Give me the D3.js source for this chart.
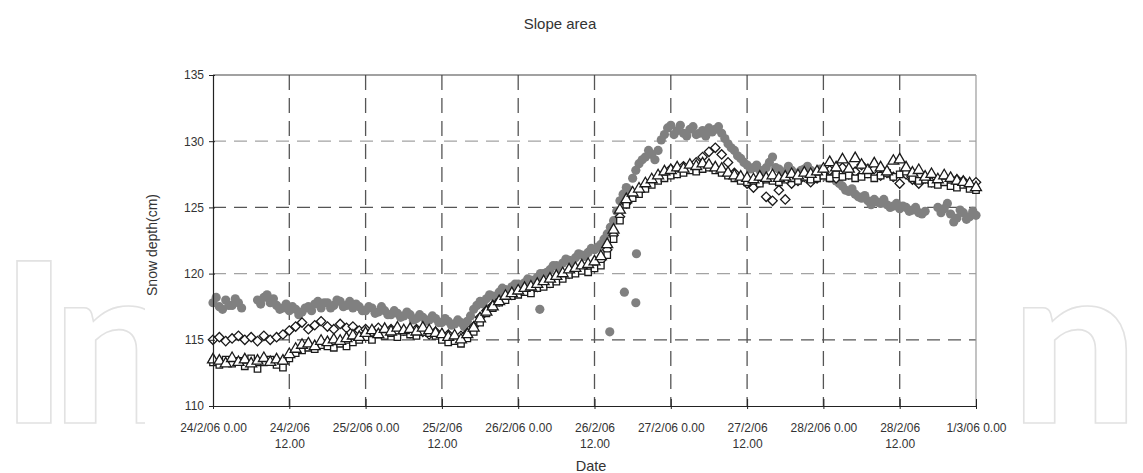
<!DOCTYPE html>
<html>
<head>
<meta charset="utf-8">
<script src="https://cdn.jsdelivr.net/npm/d3@7"></script>
<style>
  body { margin: 0; background: #fff; }
  svg { display: block; font-family: "Liberation Sans", Arial, sans-serif; }
</style>
</head>
<body>
<script>
// readings every hour (and half hour for the grey series), 24/2/06 0.00 -> 1/3/06 0.00
// hour index = position in array
const yTicks = [110, 115, 120, 125, 130, 135];
const xTickHours = [0, 12, 24, 36, 48, 60, 72, 84, 96, 108, 120];
const xTickLabels = ["24/2/06 0.00", "24/2/06|12.00", "25/2/06 0.00", "25/2/06|12.00", "26/2/06 0.00",
                     "26/2/06|12.00", "27/2/06 0.00", "27/2/06|12.00", "28/2/06 0.00", "28/2/06|12.00", "1/3/06 0.00"];

// grey filled circles, on the hour
const circleVals = [
  117.8, 117.5, 118.0, 117.6, 117.8, null, null, 118.0, 118.2, 117.8, 117.6, 117.4,
  117.2, 117.3, 117.1, 117.5, 117.7, 117.4, 117.8, 117.6, 117.9, 117.6, 117.4, 117.5,
  117.2, 117.4, 117.1, 117.2, 116.9, 117.0, 116.8, 116.9, 116.6, 116.7, 116.5, 116.6,
  116.3, 116.4, 116.2, 116.3, 116.4, 117.3, 117.9, 118.1, 118.3, 118.6, 118.8, 119.0,
  119.2, 119.3, 119.5, 119.7, 120.0, 120.3, 120.6, 120.8, 121.0, 121.2, 121.4, 121.6,
  121.8, 122.2, 123.0, 124.0, 125.5, 126.5, 127.2, 128.3, 128.8, 129.0, 129.3, 130.5,
  131.2, 130.8, 130.6, 130.9, 130.5, 130.8, 131.0, 130.9, 130.6, 129.8, 129.3, 128.7,
  128.2, 128.0, 127.8, 128.0, 128.8, 127.9, 127.7, 127.8, 127.6, 127.9, 127.8, 127.7,
  127.5, 127.2, 127.0, 126.6, 126.2, 126.0, 125.7, 125.5, 125.6, 125.3, 125.2, 125.1,
  124.9, 125.0, 124.8, 124.6, 124.7, null, 125.0, 124.9, 124.5, 124.2, 124.6, 124.3,
  124.4
];
// grey filled circles, on the half hour (0.5 ... 119.5)
const circleHalfVals = [
  118.2, 117.3, 117.6, 118.1, 117.4, null, null, 117.7, 118.4, 118.1, 117.3, 117.7,
  117.5, 116.9, 117.4, 117.2, 117.9, 117.8, 117.4, 118.0, 117.5, 117.9, 117.7, 117.2,
  117.5, 117.0, 117.5, 116.9, 117.2, 116.7, 117.1, 116.5, 116.9, 116.4, 116.8, 116.3,
  116.6, 116.1, 116.5, 116.0, 116.8, 117.6, 117.7, 118.4, 118.0, 118.9, 118.5, 119.2,
  119.0, 119.6, 119.3, 120.0, 120.1, 120.6, 120.4, 121.1, 120.8, 121.5, 121.3, 121.9,
  122.0, 122.6, 123.5, 124.7, 126.0, 126.3, 127.8, 128.6, 129.3, 128.6, 130.1, 131.0,
  130.5, 131.2, 130.4, 131.1, 130.6, 130.4, 130.7, 131.1, 130.2, 129.5, 128.9, 128.4,
  127.9, 128.2, 127.6, 128.4, 128.0, 127.6, 128.1, 127.5, 127.8, 128.1, 127.5, 127.9,
  127.3, 127.4, 126.8, 126.3, 126.4, 125.8, 125.9, 125.2, 125.4, 125.6, 125.0, 125.3,
  125.1, 124.7, 125.0, 124.5, null, null, 124.6, 125.3, 123.9, 124.8, 124.1, 124.7
];
// stray grey circles [hour, cm]
const circleStray = [[51.4, 117.3], [62.4, 115.6], [64.7, 118.6], [66.5, 117.8], [66.6, 121.5]];

// open diamonds
const diamondVals = [
  115.0, 115.2, 114.9, 115.1, 115.3, 115.0, 115.2, 114.9, 115.3, 115.0, 115.2, 115.4,
  115.7, 116.0, 116.3, 115.8, 116.1, 116.4, 116.0, 115.8, 116.2, 115.9, 116.0, 115.7,
  115.8, 115.6, 115.9, 115.5, 115.8, 115.6, 115.7, 115.5, 115.8, 115.6, 115.4, 115.6,
  115.3, 115.4, 115.1, 115.3, 115.5, 116.0, 116.7, 117.2, 117.6, 117.9, 118.2, 118.4,
  118.6, 118.8, 118.7, 119.0, 119.2, 119.3, 119.6, 119.8, 120.0, 120.2, 120.4, 120.3,
  120.6, 121.0, 121.8, 122.9, 124.3, 125.3, 125.9, 126.2, 126.6, 127.0, 127.3, 127.6,
  127.9, 127.6, 128.1, 128.0, 128.4, 128.8, 129.2, 129.5, 129.0, 128.4, 127.6, 127.2,
  126.8, 126.5, 126.9, 125.8, 125.5, 126.3, 125.6, 126.8, 127.0, 127.3, 126.9, 127.2,
  127.6, 127.8, 127.2, 128.0, 127.5, 127.7, 128.2, 127.6, 127.9, 127.4, 127.6, 127.3,
  126.8, 127.5, 127.1, 126.8, 127.2, 126.9, 127.0, 127.2, 126.8, 127.1, 127.0, 126.7,
  126.9
];

// open squares
const squareVals = [
  113.3, 113.1, 113.5, 113.2, 113.4, 113.0, 113.6, 112.8, 113.3, 113.5, 113.1, 112.9,
  113.6, 114.0, 114.2, 114.4, 114.3, 114.6, 114.5, 114.4, 114.7, 114.5, 114.8, 115.0,
  115.2, 115.0, 115.4, 115.3, 115.5, 115.2, 115.6, 115.4, 115.3, 115.6, 115.5, 115.3,
  115.0, 114.8, 114.9, 114.7, 115.1, 115.6, 116.3, 117.0, 117.4, 117.8, 118.0, 118.3,
  118.4, 118.6, 118.5, 118.9, 119.0, 119.2, 119.4, 119.6, 119.9, 120.0, 120.2, 120.1,
  120.4, 120.6, 121.4, 122.6, 124.0, 125.2, 125.7, 126.0, 126.4, 126.7, 127.0, 127.2,
  127.4, 127.5, 127.6, 127.8, 127.7, 127.9, 128.0, 127.8, 127.6, 127.4, 127.2, 127.0,
  126.9, 127.0, 126.8, 127.1, 127.0, 126.9, 127.1, 127.2, 127.0, 127.3, 127.1, 127.2,
  127.4, 127.2, 127.5, 127.3, 127.4, 127.2, 127.3, 127.5, 127.2, 127.4, 127.6, 127.3,
  127.5, 127.7, 127.2, 127.0, 127.1, 126.8, 126.7, 126.9, 126.6, 126.5, 126.7, 126.4,
  126.3
];

// open triangles
const triangleVals = [
  113.5, 113.4, 113.2, 113.6, 113.3, 113.5, 113.2, 113.4, 113.6, 113.3, 113.5, 113.4,
  113.9, 114.3, 114.6, 114.7, 114.5, 114.9, 114.8, 115.0, 114.9, 115.1, 115.3, 115.2,
  115.5, 115.7, 115.4, 115.8, 115.6, 115.9, 115.7, 115.8, 115.6, 115.9, 115.7, 115.5,
  115.4, 115.2, 115.3, 115.0, 115.4, 115.9, 116.6, 117.1, 117.5, 117.9, 118.3, 118.5,
  118.7, 118.9, 119.0, 119.2, 119.4, 119.6, 119.8, 120.0, 120.3, 120.4, 120.6, 120.7,
  120.9, 121.3, 122.2, 123.3, 124.8, 125.6, 126.1, 126.4, 126.8, 127.1, 127.4, 127.7,
  127.8, 128.0, 127.9, 128.2, 128.1, 128.3, 128.2, 128.0, 127.9, 127.6, 127.4, 127.3,
  127.2, 127.1, 127.3, 127.2, 127.4, 127.2, 127.3, 127.5, 127.4, 127.6, 127.5, 127.7,
  127.9, 128.4, 128.0, 128.6, 127.9, 128.7, 128.2, 127.8, 128.3, 128.0, 127.7, 128.5,
  128.6, 128.0, 127.6, 127.8, 127.3, 127.5, 127.1, 127.4, 127.2, 127.0, 126.9, 126.8,
  126.5
];

const W = 1143, H = 473;
const plot = {left: 213, right: 976, top: 75, bottom: 406};

const x = d3.scaleLinear().domain([0, 120]).range([plot.left, plot.right]);
const y = d3.scaleLinear().domain([110, 135]).range([plot.bottom, plot.top]);

const svg = d3.select("body").append("svg")
    .attr("width", W)
    .attr("height", H);

// faint publisher watermark, only its ends show beside the chart
function watermark(txt, xPos) {
    svg.append("text")
        .attr("x", xPos)
        .attr("y", 423)
        .style("font-family", "Lato, 'Open Sans', sans-serif")
        .style("font-size", "224px")
        .style("font-weight", 900)
        .attr("fill", "none")
        .attr("stroke", "#e2e2e2")
        .attr("stroke-width", 1.6)
        .text(txt);
}
watermark("In", "0 52");
watermark("n", 1011);

// chart area is opaque
svg.append("rect")
    .attr("x", 145).attr("y", 0)
    .attr("width", 852).attr("height", H)
    .attr("fill", "#fff");

const g = svg.append("g");

// grid
g.selectAll(".hgrid")
    .data(yTicks.filter(d => d > 110 && d < 135))
    .enter().append("line")
    .attr("x1", plot.left).attr("x2", plot.right)
    .attr("y1", d => y(d)).attr("y2", d => y(d))
    .attr("stroke", d => d % 10 == 0 ? "#a3a3a3" : "#555")
    .attr("stroke-width", 1.3)
    .attr("stroke-dasharray", "13,8");

g.selectAll(".vgrid")
    .data(xTickHours.filter(d => d > 0 && d < 120))
    .enter().append("line")
    .attr("x1", d => x(d)).attr("x2", d => x(d))
    .attr("y1", plot.top).attr("y2", plot.bottom)
    .attr("stroke", "#555")
    .attr("stroke-width", 1.3)
    .attr("stroke-dasharray", "15,8");

// frame
g.append("line")
    .attr("x1", plot.left).attr("x2", plot.right)
    .attr("y1", plot.top).attr("y2", plot.top)
    .attr("stroke", "#444").attr("stroke-width", 1.2);
g.append("line")
    .attr("x1", plot.right).attr("x2", plot.right)
    .attr("y1", plot.top).attr("y2", plot.bottom)
    .attr("stroke", "#9a9a9a").attr("stroke-width", 1.2);

function toPoints(vals, offset) {
    var pts = [];
    vals.forEach(function(v, i) {
        if (v != null) pts.push({h: i + offset, v: v});
    });
    return pts;
}

// grey circles
const circlePts = toPoints(circleVals, 0)
    .concat(toPoints(circleHalfVals, 0.5))
    .concat(circleStray.map(d => ({h: d[0], v: d[1]})));
g.append("g").selectAll("circle")
    .data(circlePts)
    .enter().append("circle")
    .attr("cx", d => x(d.h))
    .attr("cy", d => y(d.v))
    .attr("r", 4.6)
    .attr("fill", "#808080");

function drawSymbols(vals, type, size, rotate) {
    g.append("g").selectAll("path")
        .data(toPoints(vals, 0))
        .enter().append("path")
        .attr("d", d3.symbol().type(type).size(size))
        .attr("transform", d => `translate(${x(d.h)},${y(d.v)})` + (rotate ? " rotate(45)" : ""))
        .attr("fill", "#fff")
        .attr("stroke", "#1a1a1a")
        .attr("stroke-width", 1.3);
}

drawSymbols(diamondVals, d3.symbolSquare, 44, true);
drawSymbols(squareVals, d3.symbolSquare, 42, false);
drawSymbols(triangleVals, d3.symbolTriangle, 52, false);

// axes
const yAxis = d3.axisLeft(y).tickValues(yTicks).tickSizeInner(4).tickSizeOuter(0).tickPadding(3);
const yg = g.append("g").attr("transform", `translate(${plot.left},0)`).call(yAxis);
yg.select(".domain").attr("stroke", "#222").attr("stroke-width", 1.2);
yg.selectAll(".tick line").attr("stroke", "#222").attr("x2", -4).attr("x1", 2);
yg.selectAll(".tick text")
    .attr("x", -9)
    .style("font-size", "12px")
    .attr("fill", "#333");

const xAxis = d3.axisBottom(x).tickValues(xTickHours).tickSize(0).tickFormat("");
const xg = g.append("g").attr("transform", `translate(0,${plot.bottom})`).call(xAxis);
xg.select(".domain").attr("stroke", "#222").attr("stroke-width", 1.2);
xg.selectAll(".tick line").attr("stroke", "#222").attr("y1", -7).attr("y2", 3);

xg.selectAll(".tick").each(function(d, i) {
    var parts = xTickLabels[i].split("|");
    var t = d3.select(this).append("text")
        .attr("text-anchor", "middle")
        .attr("fill", "#333")
        .style("font-size", "12px");
    parts.forEach(function(p, j) {
        t.append("tspan").attr("x", 0).attr("y", 26 + j * 16).text(p);
    });
});

// titles
svg.append("text")
    .attr("x", 560).attr("y", 29)
    .attr("text-anchor", "middle")
    .attr("fill", "#333")
    .style("font-size", "15px")
    .text("Slope area");

svg.append("text")
    .attr("transform", "translate(157,245) rotate(-90)")
    .attr("text-anchor", "middle")
    .attr("fill", "#333")
    .style("font-size", "14px")
    .text("Snow depth(cm)");

svg.append("text")
    .attr("x", 591).attr("y", 471)
    .attr("text-anchor", "middle")
    .attr("fill", "#333")
    .style("font-size", "14.5px")
    .text("Date");
</script>
</body>
</html>
